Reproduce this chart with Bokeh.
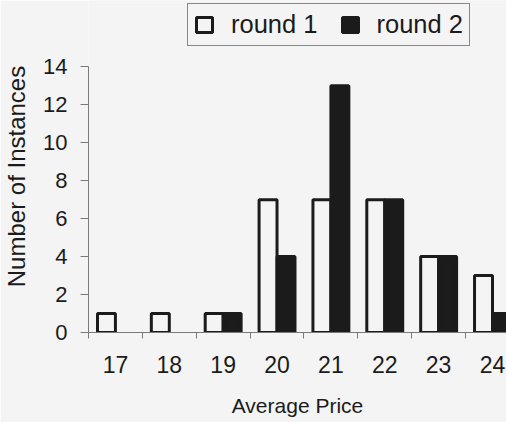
from bokeh.plotting import figure
from bokeh.models import (ColumnDataSource, FixedTicker, Legend, LegendItem,
                          Range1d)
from bokeh.transform import dodge
from bokeh.embed import file_html
from bokeh.resources import INLINE

# Average price buckets and how often each occurred per round
prices = [17, 18, 19, 20, 21, 22, 23, 24]
round1 = [1, 1, 1, 7, 7, 7, 4, 3]
round2 = [0, 0, 1, 4, 13, 7, 4, 1]
y_ticks = [0, 2, 4, 6, 8, 10, 12, 14]

BG = "#f4f4f4"
INK = "#1b1b1b"
FONT = "Liberation Sans"

src1 = ColumnDataSource(dict(x=prices, y=round1))
# zero counts are simply not drawn
nz = [i for i, v in enumerate(round2) if v > 0]
src2 = ColumnDataSource(dict(x=[prices[i] for i in nz], y=[round2[i] for i in nz]))

# the frame reaches up to the legend; the value axis itself stops at 14
p = figure(width=506, height=422, output_backend="svg", toolbar_location=None,
           x_range=Range1d(16.5, 24.26), y_range=Range1d(0, 17.5),
           min_border_left=88, min_border_right=0, min_border_top=0,
           min_border_bottom=90)
p.background_fill_color = BG
p.border_fill_color = BG
p.outline_line_color = None
p.xgrid.visible = False
p.ygrid.visible = False

bw = 1 / 3
r1 = p.vbar(x=dodge("x", -bw / 2, range=p.x_range), top="y", width=bw, bottom=0,
            source=src1, fill_color=BG, line_color=INK, line_width=3)
r2 = p.vbar(x=dodge("x", bw / 2, range=p.x_range), top="y", width=bw, bottom=0,
            source=src2, fill_color=INK, line_color=INK, line_width=3)

# x axis: labels at bucket centres, short ticks between buckets
xa = p.xaxis[0]
xa.ticker = FixedTicker(ticks=prices, minor_ticks=[v - 0.5 for v in prices] + [prices[-1] + 0.5])
xa.major_tick_out = 0
xa.major_tick_in = 0
xa.minor_tick_out = 6
xa.minor_tick_in = 0
xa.minor_tick_line_color = "#7a7a7a"
xa.axis_line_color = "#7a7a7a"
xa.major_label_text_font = FONT
xa.major_label_text_font_size = "23px"
xa.major_label_text_color = INK
xa.major_label_standoff = 17
xa.axis_label = "Average Price"
xa.axis_label_text_font = FONT
xa.axis_label_text_font_size = "21px"
xa.axis_label_text_font_style = "normal"
xa.axis_label_text_color = INK
xa.axis_label_standoff = 18

ya = p.yaxis[0]
ya.ticker = FixedTicker(ticks=y_ticks)
ya.bounds = (y_ticks[0], y_ticks[-1])
ya.major_tick_out = 8
ya.major_tick_in = 0
ya.minor_tick_out = 0
ya.minor_tick_in = 0
ya.major_tick_line_color = "#7a7a7a"
ya.axis_line_color = "#7a7a7a"
ya.major_label_text_font = FONT
ya.major_label_text_font_size = "22px"
ya.major_label_text_color = INK
ya.major_label_standoff = 13
# trailing no-break spaces nudge the title down towards the value axis
ya.axis_label = "Number of Instances\u00a0\u00a0\u00a0"
ya.axis_label_text_font = FONT
ya.axis_label_text_font_size = "24px"
ya.axis_label_text_font_style = "normal"
ya.axis_label_text_color = INK
ya.axis_label_standoff = 10

legend = Legend(items=[LegendItem(label="round 1", renderers=[r1]),
                       LegendItem(label="round 2", renderers=[r2])],
                orientation="horizontal", location=(99, 286),
                label_text_font=FONT, label_text_font_size="25.5px",
                label_text_color=INK, glyph_width=20, glyph_height=19,
                label_standoff=17, spacing=22, padding=6, margin=0,
                border_line_color=INK, border_line_width=1.5,
                background_fill_color=BG, background_fill_alpha=1)
p.add_layout(legend, "center")

open("out.html", "w").write(file_html(p, INLINE))
